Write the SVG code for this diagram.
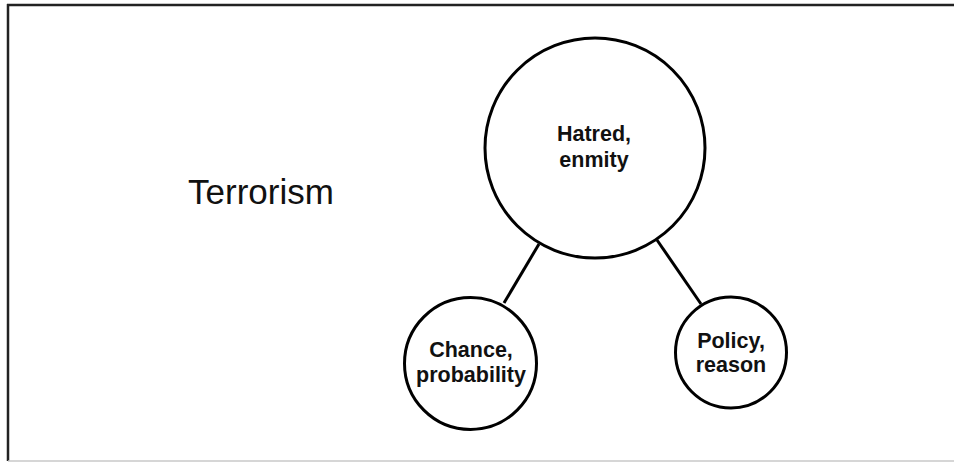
<svg xmlns="http://www.w3.org/2000/svg" width="954" height="462" viewBox="0 0 954 462">
<style>
.node{fill:#fff;stroke:#000;stroke-width:3}
.lbl{font-family:"Liberation Sans",Arial,sans-serif;font-weight:bold;font-size:21.5px;text-anchor:middle;fill:#111}
.conn line{stroke:#000;stroke-width:3}
</style>
<rect width="954" height="462" fill="#fff"/>
<g id="frame">
<line x1="7" y1="5" x2="954" y2="5" stroke="#222" stroke-width="2.5"/>
<line x1="8" y1="4" x2="8" y2="461" stroke="#222" stroke-width="2.5"/>
<line x1="8" y1="461" x2="954" y2="461" stroke="#c8c8c8" stroke-width="1.5"/>
</g>
<text id="title" x="261" y="204" font-family="'Liberation Sans',Arial,sans-serif" font-size="35" text-anchor="middle" fill="#111">Terrorism</text>
<g id="connectors" class="conn">
<line x1="539" y1="244" x2="504" y2="303"/>
<line x1="657" y1="240" x2="701" y2="304"/>
</g>
<g id="hatred">
<circle class="node" cx="595" cy="148" r="110"/>
<text class="lbl" x="594" y="141">Hatred,</text>
<text class="lbl" x="594" y="167">enmity</text>
</g>
<g id="chance">
<circle class="node" cx="470.5" cy="363.5" r="66"/>
<text class="lbl" x="471" y="357">Chance,</text>
<text class="lbl" x="471" y="382">probability</text>
</g>
<g id="policy">
<circle class="node" cx="731" cy="352.5" r="55.5"/>
<text class="lbl" x="731" y="348">Policy,</text>
<text class="lbl" x="731" y="372">reason</text>
</g>
</svg>
